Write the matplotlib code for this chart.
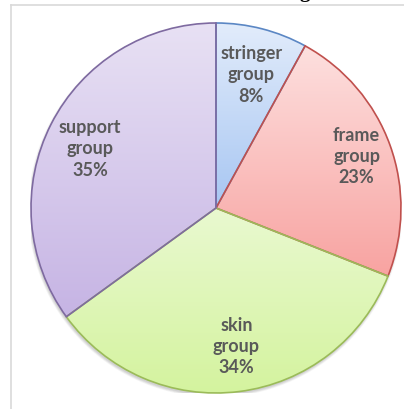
import matplotlib
matplotlib.use("Agg")
import matplotlib.pyplot as plt
from matplotlib.lines import Line2D
from matplotlib.patches import Circle
import numpy as np

groups = ["stringer\ngroup", "frame\ngroup", "skin\ngroup", "support\ngroup"]
shares = [8, 23, 34, 35]

edge_colors = ["#5b87c4", "#c0504d", "#9bbb59", "#7e6aa0"]
top_colors = ["#e2ecfb", "#fde0df", "#e9f9d0", "#e8e1f4"]
bottom_colors = ["#a7c6f2", "#f8a3a1", "#d4f39e", "#c6b4e4"]
# where each label sits, in pie radius units
label_pos = [(0.19, 0.72), (0.76, 0.28), (0.11, -0.75), (-0.68, 0.32)]

W, H = 404, 409
fig = plt.figure(figsize=(W / 100, H / 100), dpi=100)

# frame of the chart area
fig.add_artist(Line2D([11 / W, 1], [1 - 5 / H, 1 - 5 / H], color="#d9d9d9", lw=1.2))
fig.add_artist(Line2D([11 / W, 11 / W], [0, 1 - 5 / H], color="#d9d9d9", lw=1.2))

# title sits mostly above the canvas
fig.text(320 / W, 1 + 2.5 / H, "Mass Percentage", ha="right", va="baseline",
         fontsize=15, fontweight="bold", family="Liberation Serif", color="black")

cx, cy, r = 216, 208, 185
ax = fig.add_axes([(cx - r) / W, (H - cy - r) / H, 2 * r / W, 2 * r / H])

# soft drop shadow below the pie
for k, a in enumerate([0.05, 0.05, 0.05, 0.04]):
    ax.add_patch(Circle((-0.004, -0.012), 1 + 0.004 * k, color="black",
                        alpha=a, lw=0, zorder=1))

wedges, _ = ax.pie(shares, startangle=90, counterclock=False, radius=1,
                   wedgeprops=dict(linewidth=1.2, facecolor="none"))

for w, ec, c0, c1 in zip(wedges, edge_colors, top_colors, bottom_colors):
    w.set_edgecolor(ec)
    w.set_zorder(3)
    verts = w.get_path().vertices
    y0, y1 = verts[:, 1].min(), verts[:, 1].max()
    x0, x1 = verts[:, 0].min(), verts[:, 0].max()
    t = np.linspace(0, 1, 256)[:, None]
    a = np.array(matplotlib.colors.to_rgb(c0))
    b = np.array(matplotlib.colors.to_rgb(c1))
    grad = (a * (1 - t) + b * t)[:, None, :]
    im = ax.imshow(grad, extent=[x0, x1, y0, y1], origin="upper",
                   aspect="auto", zorder=2, interpolation="bilinear")
    im.set_clip_path(w)

for (lx, ly), name, val in zip(label_pos, groups, shares):
    ax.text(lx, ly, f"{name}\n{val}%", ha="center", va="center",
            fontsize=13, fontweight="bold", family="Lato", color="#595959",
            linespacing=1.3, zorder=5)

ax.set_xlim(-1, 1)
ax.set_ylim(-1, 1)
ax.axis("off")

fig.savefig("out.png", dpi=100)
